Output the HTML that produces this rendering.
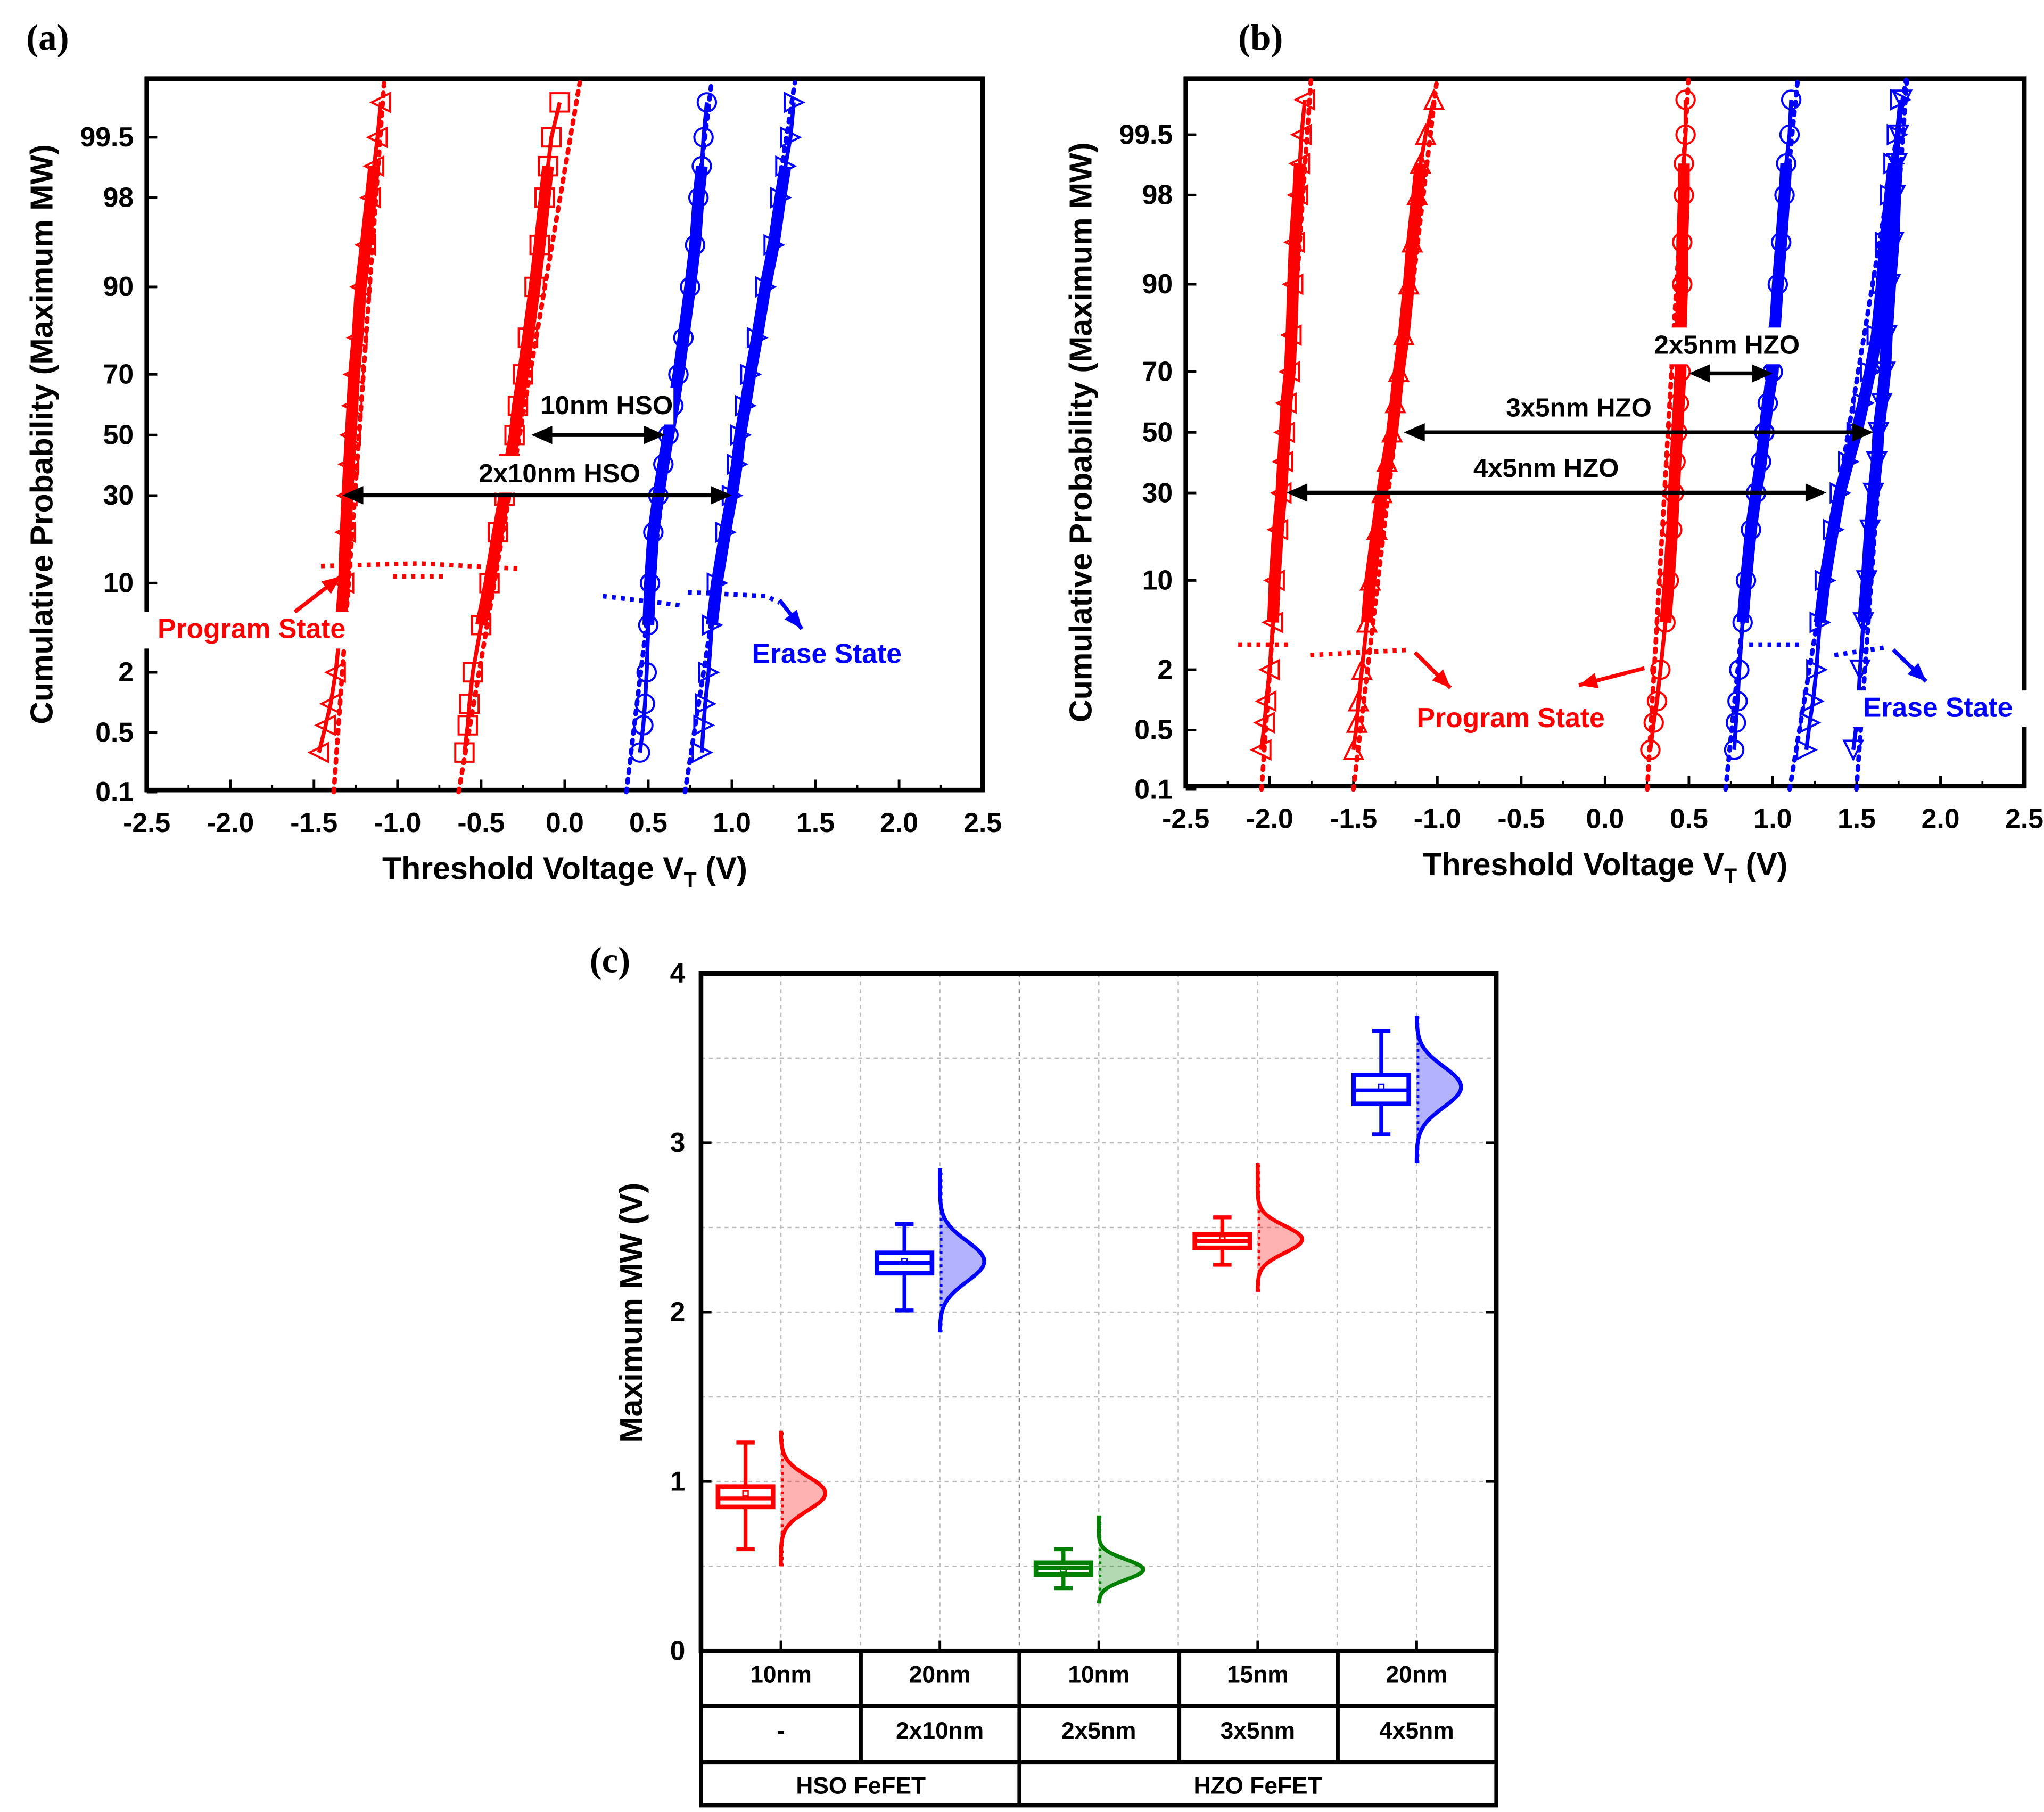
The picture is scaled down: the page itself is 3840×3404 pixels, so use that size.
<!DOCTYPE html>
<html><head><meta charset="utf-8"><style>
html,body{margin:0;padding:0;background:#fff}
svg{display:block}
text{font-family:"Liberation Sans",sans-serif;font-weight:bold}
</style></head><body>
<svg id="s" width="3840" height="3404" viewBox="0 0 1560 1383" preserveAspectRatio="none" xmlns="http://www.w3.org/2000/svg"></svg>
<script>
// ---- shared probability levels (%) ----
const probLevels=[0.3,0.6,1,2,5,10,20,30,40,50,60,70,80,90,95,98,99,99.5,99.8];
const probTicks=[0.1,0.5,2,10,30,50,70,90,98,99.5];
const probTickLabels=["0.1","0.5","2","10","30","50","70","90","98","99.5"];
const vtTicks=[-2.5,-2.0,-1.5,-1.0,-0.5,0.0,0.5,1.0,1.5,2.0,2.5];
const vtTickLabels=["-2.5","-2.0","-1.5","-1.0","-0.5","0.0","0.5","1.0","1.5","2.0","2.5"];
// ---- panel (a) series ----
const aProgTri=[-1.47,-1.43,-1.40,-1.37,-1.34,-1.32,-1.31,-1.30,-1.29,-1.28,-1.27,-1.26,-1.24,-1.22,-1.19,-1.16,-1.14,-1.12,-1.10];
const aProgSq=[-0.60,-0.58,-0.57,-0.55,-0.50,-0.45,-0.40,-0.36,-0.33,-0.30,-0.28,-0.25,-0.22,-0.18,-0.15,-0.12,-0.10,-0.08,-0.03];
const aEraseCirc=[0.45,0.47,0.48,0.49,0.50,0.51,0.53,0.56,0.59,0.62,0.65,0.68,0.71,0.75,0.78,0.80,0.82,0.83,0.85];
const aEraseTri=[0.82,0.83,0.84,0.86,0.88,0.91,0.96,1.00,1.03,1.05,1.08,1.11,1.15,1.20,1.25,1.29,1.32,1.35,1.37];
const aFitMu=[-1.23,-0.27,0.625,1.05];
const aFitSigma=[0.049,0.118,0.083,0.107];
// ---- panel (b) series ----
const bProgTriL=[-2.05,-2.03,-2.02,-2.00,-1.98,-1.97,-1.95,-1.93,-1.92,-1.91,-1.90,-1.88,-1.87,-1.86,-1.85,-1.83,-1.82,-1.81,-1.79];
const bProgTriU=[-1.50,-1.48,-1.47,-1.45,-1.42,-1.40,-1.36,-1.33,-1.30,-1.27,-1.25,-1.23,-1.20,-1.17,-1.15,-1.12,-1.10,-1.07,-1.02];
const bProgCirc=[0.27,0.29,0.31,0.33,0.36,0.38,0.40,0.41,0.42,0.43,0.44,0.45,0.45,0.46,0.46,0.47,0.47,0.48,0.48];
const bEraseCirc=[0.77,0.78,0.79,0.80,0.82,0.84,0.87,0.90,0.93,0.95,0.97,1.00,1.01,1.03,1.05,1.07,1.08,1.10,1.11];
const bEraseTriR=[1.20,1.22,1.24,1.26,1.28,1.31,1.36,1.40,1.45,1.50,1.54,1.58,1.62,1.65,1.67,1.70,1.72,1.74,1.76];
const bEraseTriD=[1.48,1.50,1.51,1.52,1.54,1.56,1.58,1.60,1.62,1.63,1.65,1.67,1.68,1.70,1.72,1.73,1.74,1.75,1.77];
const bFitMu=[-1.90,-1.25,0.375,0.935,1.45,1.65];
const bFitSigma=[0.048,0.081,0.040,0.070,0.113,0.049];
// ---- panel (c) box/violin ----
const cQ1=[0.85,2.23,0.45,2.38,3.23];
const cQ3=[0.97,2.35,0.52,2.46,3.40];
const cMedian=[0.90,2.29,0.49,2.42,3.31];
const cWhiskLo=[0.60,2.01,0.37,2.28,3.05];
const cWhiskHi=[1.23,2.52,0.60,2.56,3.66];
const cMean=[0.93,2.30,0.48,2.43,3.33];
const cSd=[0.10,0.12,0.06,0.08,0.12];
const cMin=[0.50,1.88,0.28,2.12,2.88];
const cMax=[1.30,2.85,0.80,2.88,3.75];
const cColors=["#ff0000","#0000ff","#008000","#ff0000","#0000ff"];
const cRow1=["10nm","20nm","10nm","15nm","20nm"];
const cRow2=["-","2x10nm","2x5nm","3x5nm","4x5nm"];
const cYTicks=[0,1,2,3,4];

const S=document.getElementById('s');
const NS="http://www.w3.org/2000/svg";
function mk(tag,attrs,name,txt){const e=document.createElementNS(NS,tag);for(const k in attrs)e.setAttribute(k,attrs[k]);


if(txt!==undefined)e.textContent=txt;S.appendChild(e);return e;}
function probit(p){const a=[-39.6968302866538,220.946098424521,-275.928510446969,138.357751867269,-30.6647980661472,2.50662827745924],
b=[-54.4760987982241,161.585836858041,-155.698979859887,66.8013118877197,-13.2806815528857],
c=[-0.00778489400243029,-0.322396458041136,-2.40075827716184,-2.54973253934373,4.37466414146497,2.93816398269878],
d=[0.00778469570904146,0.32246712907004,2.445134137143,3.75440866190742];
let q,r;if(p<0.02425){q=Math.sqrt(-2*Math.log(p));return (((((c[0]*q+c[1])*q+c[2])*q+c[3])*q+c[4])*q+c[5])/((((d[0]*q+d[1])*q+d[2])*q+d[3])*q+1);}
if(p>1-0.02425){q=Math.sqrt(-2*Math.log(1-p));return -(((((c[0]*q+c[1])*q+c[2])*q+c[3])*q+c[4])*q+c[5])/((((d[0]*q+d[1])*q+d[2])*q+d[3])*q+1);}
q=p-0.5;r=q*q;return (((((a[0]*r+a[1])*r+a[2])*r+a[3])*r+a[4])*r+a[5])*q/(((((b[0]*r+b[1])*r+b[2])*r+b[3])*r+b[4])*r+1);}

function marker(shape,x,y,col,name){const r=7;let e;
if(shape==='circ')e=mk('circle',{cx:x,cy:y,r:r,fill:'none',stroke:col,'stroke-width':1.6},name);
else if(shape==='sq')e=mk('rect',{x:x-r,y:y-r,width:2*r,height:2*r,fill:'none',stroke:col,'stroke-width':1.6},name);
else{let pts;
if(shape==='triL')pts=[[x-r,y],[x+r,y-r],[x+r,y+r]];
if(shape==='triR')pts=[[x+r,y],[x-r,y-r],[x-r,y+r]];
if(shape==='triU')pts=[[x,y-r],[x-r,y+r],[x+r,y+r]];
if(shape==='triD')pts=[[x,y+r],[x-r,y-r],[x+r,y-r]];
e=mk('polygon',{points:pts.map(p=>p.join(',')).join(' '),fill:'none',stroke:col,'stroke-width':1.6},name);}
return e;}

function cdfPanel(o){
const X=v=>o.x0+(v+2.5)/5*(o.x1-o.x0);
const Y=p=>o.y50-88.2*probit(p/100);
mk('rect',{x:o.x0,y:o.y0,width:o.x1-o.x0,height:o.y1-o.y0,fill:'none',stroke:'#000','stroke-width':3.5},o.id+'-plot-frame');
vtTicks.forEach((v,i)=>{const x=X(v);
mk('line',{x1:x,y1:o.y1,x2:x,y2:o.y1-8,stroke:'#000','stroke-width':2},o.id+'-x-tick');
if(i<vtTicks.length-1)mk('line',{x1:X(v+0.25),y1:o.y1,x2:X(v+0.25),y2:o.y1-4,stroke:'#000','stroke-width':1.5},o.id+'-x-minor-tick');
mk('text',{x:x,y:o.y1+32,'text-anchor':'middle','font-size':21},o.id+'-x-tick-label',vtTickLabels[i]);});
probTicks.forEach((p,i)=>{const y=Y(p);
mk('line',{x1:o.x0,y1:y,x2:o.x0+8,y2:y,stroke:'#000','stroke-width':2},o.id+'-y-tick');
mk('text',{x:o.x0-10,y:y+7,'text-anchor':'end','font-size':21},o.id+'-y-tick-label',probTickLabels[i]);});
mk('text',{x:(o.x0+o.x1)/2,y:o.y1+68,'text-anchor':'middle','font-size':24},o.id+'-x-axis-title','Threshold Voltage V').innerHTML='Threshold Voltage V<tspan font-size="16" dy="6">T</tspan><tspan dy="-6"> (V)</tspan>';
mk('text',{x:0,y:0,'text-anchor':'middle','font-size':24,transform:`translate(${o.x0-72},${(o.y0+o.y1)/2}) rotate(-90)`},o.id+'-y-axis-title','Cumulative Probability (Maximum MW)');
o.fits.forEach((f,i)=>{const zs=[-3.09,3.05];
mk('line',{x1:X(f.mu+f.s*zs[0]),y1:o.y50-88.2*zs[0],x2:X(f.mu+f.s*zs[1]),y2:o.y50-88.2*zs[1],stroke:f.col,'stroke-width':3.5,'stroke-dasharray':'2.5 5','stroke-linecap':'round'},o.id+'-fit-line-'+i);});
o.series.forEach(s=>{
mk('polyline',{points:s.v.slice(4,17).map((v,i)=>X(v)+','+Y(probLevels[i+4])).join(' '),fill:'none',stroke:s.col,'stroke-width':9,'stroke-linejoin':'round'},o.id+'-'+s.name+'-band');
mk('polyline',{points:s.v.map((v,i)=>X(v)+','+Y(probLevels[i])).join(' '),fill:'none',stroke:s.col,'stroke-width':3,'stroke-linejoin':'round'},o.id+'-'+s.name+'-line');
s.v.forEach((v,i)=>marker(s.shape,X(v),Y(probLevels[i]),s.col,o.id+'-'+s.name+'-point'));});
return {X,Y};}

const A=cdfPanel({id:'a',x0:112,x1:750,y0:60,y1:603,y50:332,
fits:[{mu:aFitMu[0],s:aFitSigma[0],col:'#f00'},{mu:aFitMu[1],s:aFitSigma[1],col:'#f00'},{mu:aFitMu[2],s:aFitSigma[2],col:'#00f'},{mu:aFitMu[3],s:aFitSigma[3],col:'#00f'}],
series:[{name:'program-10nm',v:aProgTri,shape:'triL',col:'#f00'},{name:'program-2x10nm',v:aProgSq,shape:'sq',col:'#f00'},
{name:'erase-10nm',v:aEraseCirc,shape:'circ',col:'#00f'},{name:'erase-2x10nm',v:aEraseTri,shape:'triR',col:'#00f'}]});
const B=cdfPanel({id:'b',x0:905,x1:1545,y0:60,y1:600,y50:330,
fits:bFitMu.map((m,i)=>({mu:m,s:bFitSigma[i],col:i<3?'#f00':'#00f'})),
series:[{name:'program-4x5nm',v:bProgTriL,shape:'triL',col:'#f00'},{name:'program-3x5nm',v:bProgTriU,shape:'triU',col:'#f00'},
{name:'program-2x5nm',v:bProgCirc,shape:'circ',col:'#f00'},{name:'erase-2x5nm',v:bEraseCirc,shape:'circ',col:'#00f'},
{name:'erase-4x5nm',v:bEraseTriR,shape:'triR',col:'#00f'},{name:'erase-3x5nm',v:bEraseTriD,shape:'triD',col:'#00f'}]});

// panel labels
mk('text',{x:20,y:38,'font-size':28,style:'font-family:"Liberation Serif",serif'},'panel-label-a','(a)');
mk('text',{x:945,y:38,'font-size':28,style:'font-family:"Liberation Serif",serif'},'panel-label-b','(b)');
mk('text',{x:450,y:742,'font-size':28,style:'font-family:"Liberation Serif",serif'},'panel-label-c','(c)');

// arrows
function dblArrow(x1,x2,y,name){mk('line',{x1:x1+12,y1:y,x2:x2-12,y2:y,stroke:'#000','stroke-width':3},name);
mk('polygon',{points:`${x1},${y} ${x1+16},${y-7} ${x1+16},${y+7}`,fill:'#000'},name+'-head-left');
mk('polygon',{points:`${x2},${y} ${x2-16},${y-7} ${x2-16},${y+7}`,fill:'#000'},name+'-head-right');}
function label(x,y,t,name,col,size){const w=t.length*(size||20)*0.6;
mk('rect',{x:x-w/2-3,y:y-20,width:w+6,height:28,fill:'#fff'},name+'-bg');
mk('text',{x:x,y:y,'text-anchor':'middle','font-size':size||20,fill:col||'#000'},name,t);}
dblArrow(A.X(-0.2),A.X(0.6),332,'arrow-10nm-hso');
label(463,316,'10nm HSO','label-10nm-hso');
dblArrow(A.X(-1.33),A.X(1.0),378,'arrow-2x10nm-hso');
label(427,368,'2x10nm HSO','label-2x10nm-hso');
dblArrow(B.X(0.5),B.X(1.0),285,'arrow-2x5nm-hzo');
label(1318,270,'2x5nm HZO','label-2x5nm-hzo');
dblArrow(B.X(-1.2),B.X(1.6),330,'arrow-3x5nm-hzo');
label(1205,318,'3x5nm HZO','label-3x5nm-hzo');
dblArrow(B.X(-1.9),B.X(1.32),376,'arrow-4x5nm-hzo');
label(1180,364,'4x5nm HZO','label-4x5nm-hzo');
// state labels
label(192,487,'Program State','label-program-state-a','#f00',21);
label(631,506,'Erase State','label-erase-state-a','#00f',21);
label(1153,555,'Program State','label-program-state-b','#f00',21);
label(1479,547,'Erase State','label-erase-state-b','#00f',21);
function dots(pts,col,name){mk('polyline',{points:pts.map(p=>p.join(',')).join(' '),fill:'none',stroke:col,'stroke-width':3.5,'stroke-dasharray':'3 4'},name);}
dots([[245,432],[320,430],[395,434]],'#f00','program-dash-a1');dots([[300,440],[340,440]],'#f00','program-dash-a2');
dots([[460,455],[520,462]],'#00f','erase-dash-a1');dots([[525,452],[585,455],[595,460]],'#00f','erase-dash-a2');
dots([[945,492],[985,492]],'#f00','program-dash-b1');dots([[1000,500],[1075,496]],'#f00','program-dash-b2');
dots([[1335,492],[1375,492]],'#00f','erase-dash-b1');dots([[1400,500],[1440,494]],'#00f','erase-dash-b2');
function arr(x1,y1,x2,y2,col,name){mk('line',{x1:x1,y1:y1,x2:x2,y2:y2,stroke:col,'stroke-width':3},name);
const a=Math.atan2(y2-y1,x2-x1),L=14,W=6;
mk('polygon',{points:`${x2},${y2} ${x2-L*Math.cos(a)+W*Math.sin(a)},${y2-L*Math.sin(a)-W*Math.cos(a)} ${x2-L*Math.cos(a)-W*Math.sin(a)},${y2-L*Math.sin(a)+W*Math.cos(a)}`,fill:col},name+'-head');}
arr(225,467,260,440,'#f00','arrow-program-a');
arr(595,458,612,480,'#00f','arrow-erase-a');
arr(1080,498,1107,525,'#f00','arrow-program-b1');
arr(1255,510,1205,523,'#f00','arrow-program-b2');
arr(1445,496,1470,520,'#00f','arrow-erase-b');

// ---- panel (c) ----
const cx0=535,cx1=1142,cy0=743,cy1=1260;
const CY=v=>cy1-v/4*(cy1-cy0);
const CX=i=>596+i*121.3;
for(let v=0.5;v<4;v+=0.5)mk('line',{x1:cx0,y1:CY(v),x2:cx1,y2:CY(v),stroke:'#bbb','stroke-width':1,'stroke-dasharray':'3 3'},'c-grid-h');
for(let i=0;i<9;i++){const x=596+i*60.65;mk('line',{x1:x,y1:cy0,x2:x,y2:cy1,stroke:i==3?'#888':'#bbb','stroke-width':1,'stroke-dasharray':'3 3'},'c-grid-v');}
mk('rect',{x:cx0,y:cy0,width:cx1-cx0,height:cy1-cy0,fill:'none',stroke:'#000','stroke-width':3.5},'c-plot-frame');
cYTicks.forEach(v=>{mk('line',{x1:cx0,y1:CY(v),x2:cx0+8,y2:CY(v),stroke:'#000','stroke-width':2},'c-y-tick');
mk('line',{x1:cx1,y1:CY(v),x2:cx1-8,y2:CY(v),stroke:'#000','stroke-width':2},'c-y-tick-right');
mk('text',{x:cx0-12,y:CY(v)+7,'text-anchor':'end','font-size':21},'c-y-tick-label',String(v));});
for(let i=0;i<5;i++){mk('line',{x1:CX(i),y1:cy1,x2:CX(i),y2:cy1-8,stroke:'#000','stroke-width':2},'c-x-tick');}
mk('text',{x:0,y:0,'text-anchor':'middle','font-size':24,transform:`translate(490,1002) rotate(-90)`},'c-y-axis-title','Maximum MW (V)');
cQ1.forEach((q,i)=>{const col=cColors[i],bx=CX(i)-27,w=42;
mk('line',{x1:bx,y1:CY(cWhiskLo[i]),x2:bx,y2:CY(cWhiskHi[i]),stroke:col,'stroke-width':3},'c-whisker-'+i);
mk('line',{x1:bx-7,y1:CY(cWhiskLo[i]),x2:bx+7,y2:CY(cWhiskLo[i]),stroke:col,'stroke-width':3},'c-whisker-cap-lo-'+i);
mk('line',{x1:bx-7,y1:CY(cWhiskHi[i]),x2:bx+7,y2:CY(cWhiskHi[i]),stroke:col,'stroke-width':3},'c-whisker-cap-hi-'+i);
mk('rect',{x:bx-w/2,y:CY(cQ3[i]),width:w,height:CY(q)-CY(cQ3[i]),fill:'#fff',stroke:col,'stroke-width':3.5},'c-box-'+i);
mk('line',{x1:bx-w/2,y1:CY(cMedian[i]),x2:bx+w/2,y2:CY(cMedian[i]),stroke:col,'stroke-width':3},'c-median-'+i);
mk('rect',{x:bx-2,y:CY(cMean[i])-2,width:4,height:4,fill:'none',stroke:col,'stroke-width':1},'c-mean-'+i);
const pts=[];const n=40;
for(let k=0;k<=n;k++){const v=cMin[i]+(cMax[i]-cMin[i])*k/n;const z=(v-cMean[i])/cSd[i];pts.push([CX(i)+34*Math.exp(-z*z/2),CY(v)]);}
mk('polygon',{points:[[CX(i),CY(cMin[i])],...pts,[CX(i),CY(cMax[i])]].map(p=>p.join(',')).join(' '),fill:col,'fill-opacity':0.3,stroke:'none'},'c-dist-fill-'+i);
mk('polyline',{points:pts.map(p=>p.join(',')).join(' '),fill:'none',stroke:col,'stroke-width':3},'c-dist-curve-'+i);
mk('line',{x1:CX(i)+1,y1:CY(cMin[i]),x2:CX(i)+1,y2:CY(cMax[i]),stroke:col,'stroke-width':2,'stroke-dasharray':'2 3'},'c-dist-spine-'+i);
});
// table
const ty=[1260,1302,1345,1378];
mk('rect',{x:cx0,y:ty[0],width:cx1-cx0,height:ty[3]-ty[0],fill:'none',stroke:'#000','stroke-width':3},'c-table-frame');
[1302,1345].forEach(y=>mk('line',{x1:cx0,y1:y,x2:cx1,y2:y,stroke:'#000','stroke-width':3},'c-table-row-line'));
[657,778,900,1021].forEach(x=>mk('line',{x1:x,y1:ty[0],x2:x,y2:x==778?ty[3]:ty[2],stroke:'#000','stroke-width':3},'c-table-col-line'));
cRow1.forEach((t,i)=>mk('text',{x:CX(i),y:1284,'text-anchor':'middle','font-size':18},'c-table-thickness',t));
cRow2.forEach((t,i)=>mk('text',{x:CX(i),y:1327,'text-anchor':'middle','font-size':18},'c-table-stack',t));
mk('text',{x:657,y:1369,'text-anchor':'middle','font-size':18},'c-table-hso','HSO FeFET');
mk('text',{x:960,y:1369,'text-anchor':'middle','font-size':18},'c-table-hzo','HZO FeFET');
</script>
</body></html>
